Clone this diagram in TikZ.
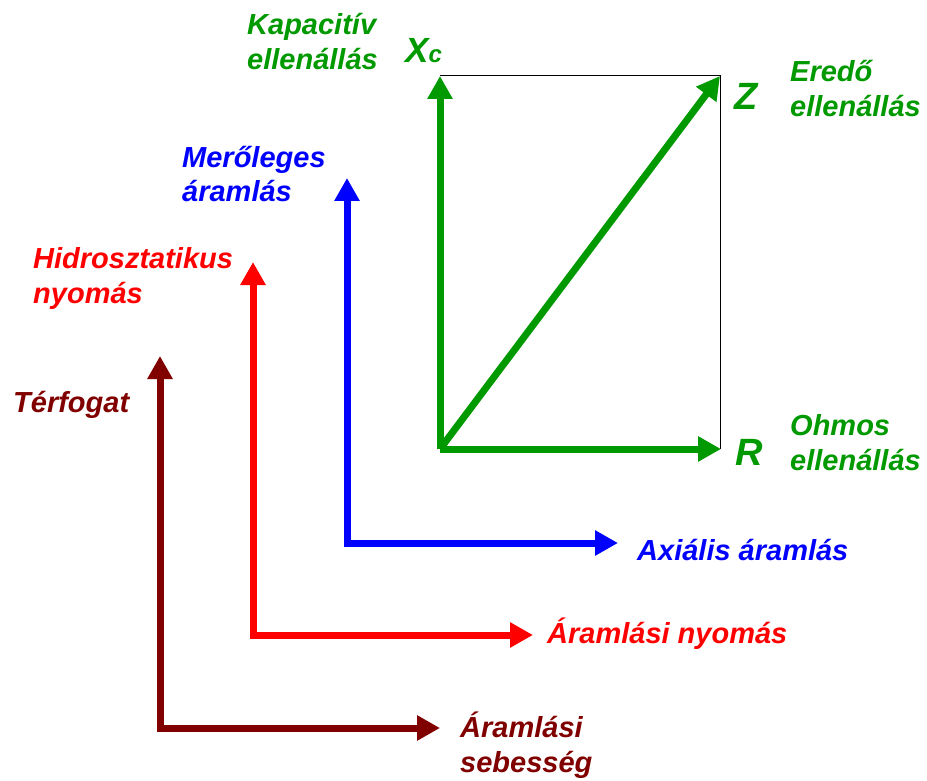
\documentclass[tikz,border=0pt]{standalone}
\usepackage{fontspec}
\setmainfont{Liberation Sans}
\usetikzlibrary{arrows.meta}
\definecolor{cgreen}{RGB}{0,153,0}
\definecolor{cblue}{RGB}{0,0,255}
\definecolor{cred}{RGB}{255,0,0}
\definecolor{cdark}{RGB}{128,0,0}
\begin{document}
\begin{tikzpicture}[x=1pt,y=-1pt,
  axis/.style={line width=7pt,{Triangle[width=24pt,length=23pt]}-{Triangle[width=24pt,length=23pt]}},
  vec/.style={line width=7pt,-{Triangle[width=24pt,length=23pt]}},
  lbl/.style={inner sep=0pt,anchor=base west,font=\fontsize{29}{35}\selectfont\bfseries\itshape,align=left},
  big/.style={inner sep=0pt,anchor=base west,font=\fontsize{38}{40}\selectfont\bfseries\itshape}]
\useasboundingbox (0,0) rectangle (927,781);
% coordinates
\coordinate (go) at (440,449);
\coordinate (gx) at (440,76);
\coordinate (gr) at (721,449);
\coordinate (gz) at (720,76);
\coordinate (bv) at (347,178);
\coordinate (bo) at (347,543);
\coordinate (bh) at (618,543);
\coordinate (rv) at (253,262);
\coordinate (ro) at (253,635);
\coordinate (rh) at (533,635);
\coordinate (dv) at (160,356);
\coordinate (do) at (160,728);
\coordinate (dh) at (440,728);
% thin rectangle
\draw[line width=1pt,black] (gx) -- (gz) -- (gz |- gr);
% green
\draw[vec,cgreen] (go) -- (gx);
\draw[vec,cgreen] (go) -- (gr);
\draw[vec,cgreen] (go) -- (gz);
% blue, red, dark
\draw[axis,cblue] (bv) -- (bo) -- (bh);
\draw[axis,cred] (rv) -- (ro) -- (rh);
\draw[axis,cdark] (dv) -- (do) -- (dh);
% labels
\node[lbl,text=cgreen] (kap) at (247,70) {Kapacitív\\ellenállás};
\node[inner sep=0pt,anchor=base west,text=cgreen,font=\fontsize{35}{40}\selectfont\bfseries\itshape] (xc) at (405,63) {X\fontsize{24}{26}\selectfont c};
\node[big,text=cgreen] (z) at (734,110) {Z};
\node[lbl,text=cgreen] (ered) at (790,117) {Eredő\\ellenállás};
\node[big,text=cgreen] (r) at (735,465) {R};
\node[lbl,text=cgreen] (ohm) at (790,470) {Ohmos\\ellenállás};
\node[lbl,text=cblue] (mer) at (182,202) {Merőleges\\áramlás};
\node[lbl,text=cred] (hid) at (33,303) {Hidrosztatikus\\nyomás};
\node[lbl,text=cdark] (terf) at (13,412) {Térfogat};
\node[lbl,text=cblue] (axi) at (637,560) {Axiális áramlás};
\node[lbl,text=cred] (aram) at (547,643) {Áramlási nyomás};
\node[lbl,text=cdark] (seb) at (460,772) {Áramlási\\sebesség};
\end{tikzpicture}
\end{document}
